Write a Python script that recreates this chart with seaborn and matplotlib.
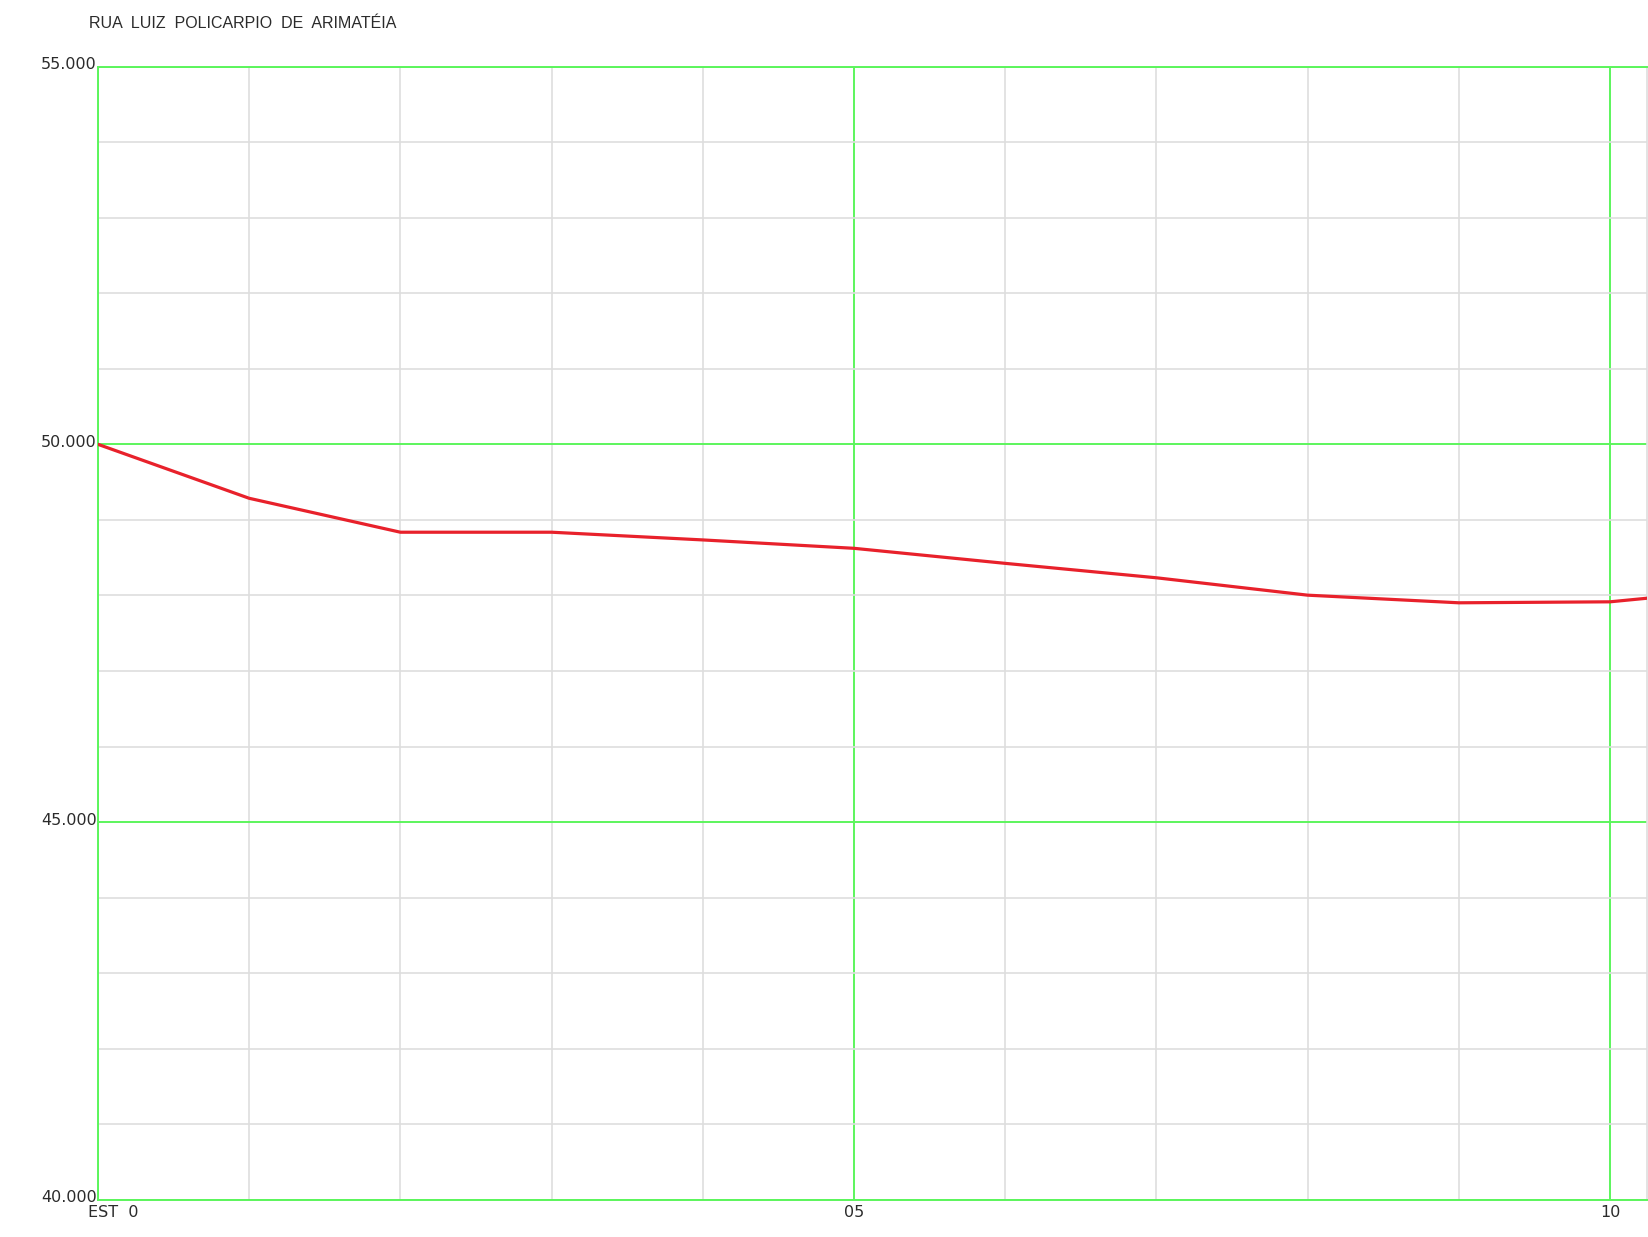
"""
Longitudinal profile of RUA LUIZ POLICARPIO DE ARIMATEIA (ground line).
"""

import numpy as np
import pandas as pd
import matplotlib
matplotlib.use("Agg")
import matplotlib.pyplot as plt
import matplotlib.transforms as mtransforms
import seaborn as sns

TITLE = "RUA  LUIZ  POLICARPIO  DE  ARIMATÉIA"

# stations (EST) and ground elevations
STATIONS   = [0, 1, 2, 3, 4, 5, 6, 7, 8, 9, 10, 11]
ELEVATIONS = [50.000, 49.286, 48.837, 48.837, 48.735, 48.624,
              48.425, 48.234, 48.004, 47.903, 47.916, 48.110]

Y_MAJOR   = [40, 45, 50, 55]
Y_LABELS  = ["40.000", "45.000", "50.000", "55.000"]
X_MAJOR   = [0, 5, 10]
X_LABELS  = ["EST  0", "05", "10"]

GREEN = "#5cf55c"
GREY  = "#dedede"
RED   = "#e8212b"
TEXT  = "#2b2b2b"

W, H, DPI = 1648, 1237, 100
X0_PX, X_STEP = 98, 151.2
Y_TOP_PX, Y_BOT_PX = 66.5, 1200

sns.set_style("white")
plt.rcParams["font.family"] = ["Liberation Sans", "DejaVu Sans"]

fig = plt.figure(figsize=(W / DPI, H / DPI), dpi=DPI)
ax = fig.add_axes([X0_PX / W, 1 - Y_BOT_PX / H,
                   (W - 1 - X0_PX) / W, (Y_BOT_PX - Y_TOP_PX) / H])

df = pd.DataFrame({"est": STATIONS, "cota": ELEVATIONS})
sns.lineplot(data=df, x="est", y="cota", ax=ax, color=RED,
             linewidth=2.3, zorder=5)

ax.set_xlim(0, (W - 1 - X0_PX) / X_STEP)
ax.set_ylim(40, 55)

# grey grid every station / every metre, green every 5
ax.set_xticks(range(0, 11), minor=True)
ax.set_yticks(range(40, 56), minor=True)
ax.set_xticks(X_MAJOR)
ax.set_yticks(Y_MAJOR)
ax.grid(which="minor", color=GREY, linewidth=1.2, zorder=1)
ax.grid(which="major", color=GREEN, linewidth=1.4, zorder=2)
ax.set_axisbelow(True)

ax.set_yticklabels(Y_LABELS, fontfamily="DejaVu Sans")
ax.set_xticklabels([])
ax.tick_params(which="both", length=0)
ax.tick_params(axis="y", pad=1, labelsize=11.5, labelcolor=TEXT)

for lab in ax.get_yticklabels():
    lab.set_verticalalignment("center")
    lab.set_transform(lab.get_transform() +
                      mtransforms.ScaledTranslation(0, 2 / DPI, fig.dpi_scale_trans))

# station labels below the axis
blend = mtransforms.blended_transform_factory(ax.transData, ax.transAxes)
for xv, txt in zip(X_MAJOR, X_LABELS):
    dx = -10 if xv == 0 else 0
    ax.text(xv, 0, txt,
            transform=blend + mtransforms.ScaledTranslation(
                dx / DPI, -5 / DPI, fig.dpi_scale_trans),
            ha="left" if xv == 0 else "center", va="top",
            fontsize=11.5, color=TEXT, fontfamily="DejaVu Sans")

for side in ["left", "bottom", "top"]:
    ax.spines[side].set_color(GREEN)
    ax.spines[side].set_linewidth(1.4)
ax.spines["right"].set_color(GREY)
ax.spines["right"].set_linewidth(1.2)

ax.set_xlabel("")
ax.set_ylabel("")

fig.text(89 / W, 1 - 24 / H, TITLE, ha="left", va="center",
         fontsize=11.5, color=TEXT)

fig.savefig("out.png", dpi=DPI)
plt.close()
